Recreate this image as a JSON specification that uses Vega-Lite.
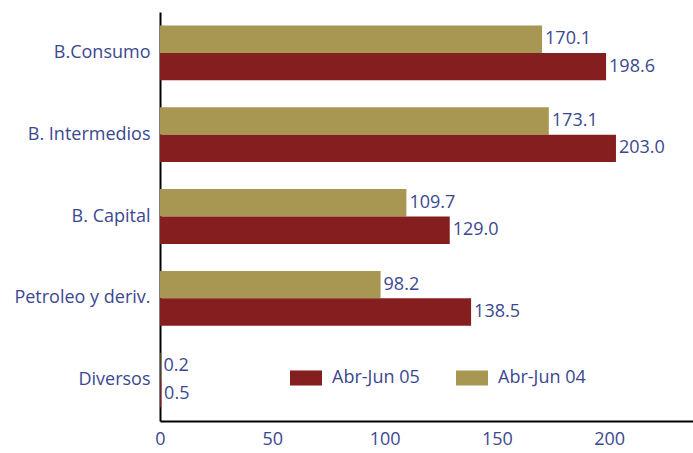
{
  "$schema": "https://vega.github.io/schema/vega-lite/v6.json",
  "width": 533,
  "height": 409,
  "autosize": {"type": "none"},
  "padding": {"left": 160, "top": 12, "right": 0, "bottom": 32},
  "background": "white",
  "config": {
    "view": {"stroke": null},
    "font": "Open Sans",
    "axis": {"labelFont": "Open Sans", "labelColor": "#3B4890", "labelFontSize": 18, "domainColor": "#000000", "domainWidth": 2, "ticks": false, "grid": false, "title": null}
  },
  "data": {
    "values": [
      {"cat": "B.Consumo", "period": "Abr-Jun 04", "value": 170.1},
      {"cat": "B.Consumo", "period": "Abr-Jun 05", "value": 198.6},
      {"cat": "B. Intermedios", "period": "Abr-Jun 04", "value": 173.1},
      {"cat": "B. Intermedios", "period": "Abr-Jun 05", "value": 203.0},
      {"cat": "B. Capital", "period": "Abr-Jun 04", "value": 109.7},
      {"cat": "B. Capital", "period": "Abr-Jun 05", "value": 129.0},
      {"cat": "Petroleo y deriv.", "period": "Abr-Jun 04", "value": 98.2},
      {"cat": "Petroleo y deriv.", "period": "Abr-Jun 05", "value": 138.5},
      {"cat": "Diversos", "period": "Abr-Jun 04", "value": 0.2},
      {"cat": "Diversos", "period": "Abr-Jun 05", "value": 0.5}
    ]
  },
  "encoding": {
    "y": {"field": "cat", "type": "nominal", "sort": ["B.Consumo", "B. Intermedios", "B. Capital", "Petroleo y deriv.", "Diversos"],
      "scale": {"paddingInner": 0.33, "paddingOuter": 0.165},
      "axis": {"labelPadding": 10, "domainWidth": 2}},
    "yOffset": {"field": "period", "type": "nominal", "sort": ["Abr-Jun 04", "Abr-Jun 05"]},
    "x": {"field": "value", "type": "quantitative", "scale": {"domain": [0, 237.3], "nice": false, "zero": true},
      "axis": {"values": [0, 50, 100, 150, 200], "labelPadding": 9, "labelFlush": false}}
  },
  "layer": [
    {
      "mark": {"type": "bar"},
      "encoding": {
        "color": {"field": "period", "type": "nominal",
          "scale": {"domain": ["Abr-Jun 05", "Abr-Jun 04"], "range": ["#851E1E", "#A89752"]},
          "legend": {"orient": "none", "legendX": 130, "legendY": 350, "direction": "horizontal", "title": null,
            "symbolType": "M-1,-0.47H1V0.47H-1Z", "symbolSize": 1024, "symbolStrokeWidth": 0,
            "labelFont": "Open Sans", "labelFontSize": 18, "labelColor": "#3B4890", "columnPadding": 36, "labelOffset": 10}}
      }
    },
    {
      "mark": {"type": "text", "align": "left", "baseline": "middle", "dx": 3, "fontSize": 18, "color": "#3B4890", "font": "Open Sans"},
      "encoding": {"text": {"field": "value", "type": "quantitative", "format": ".1f"}}
    }
  ]
}
